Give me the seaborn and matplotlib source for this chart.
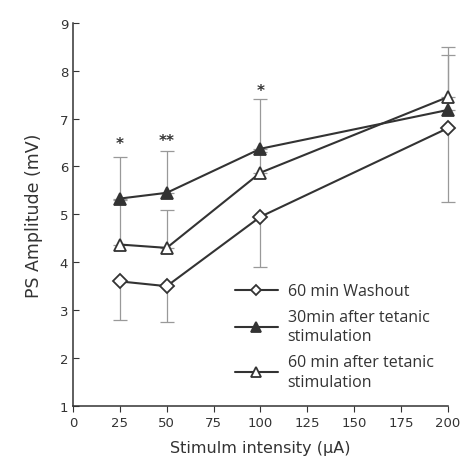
import numpy as np
import pandas as pd
import seaborn as sns
import matplotlib.pyplot as plt

# data
intensity = [25, 50, 100, 200]
washout = [3.6, 3.5, 4.95, 6.8]
washout_low = [2.8, 2.75, 3.9, 5.25]
tet30 = [5.33, 5.45, 6.37, 7.18]
tet30_high = [6.2, 6.33, 7.4, 8.33]
tet60 = [4.37, 4.3, 5.87, 7.45]
tet60_high = [5.3, 5.1, 6.3, 8.5]
star_x = [25, 50, 100]
star_y = [6.47, 6.54, 7.58]
star_txt = ['*', '**', '*']

sns.set_style('ticks')
plt.rcParams['font.family'] = ['DejaVu Sans']

ink = '#333333'
bar_col = '#999999'

fig = plt.figure(figsize=(4.65, 4.77), dpi=100)
ax = fig.add_axes([0.157, 0.147, 0.806, 0.803])

x = np.array(intensity)

# error bars (one sided)
eb_kw = dict(fmt='none', ecolor=bar_col, elinewidth=0.9, capsize=5, capthick=0.9, zorder=1)
for y, err in [(washout, [np.array(washout) - np.array(washout_low), np.zeros(4)]),
               (tet30, [np.zeros(4), np.array(tet30_high) - np.array(tet30)]),
               (tet60, [np.zeros(4), np.array(tet60_high) - np.array(tet60)])]:
    eb = ax.errorbar(x, y, yerr=err, **eb_kw)
    for art in eb.lines[1] + eb.lines[2]:
        art.set_clip_on(False)

sns.lineplot(x=x, y=washout, ax=ax, color=ink, lw=1.5, marker='D', ms=7,
             markerfacecolor='white', markeredgecolor=ink, markeredgewidth=1.3,
             label='60 min Washout', zorder=3, clip_on=False)
sns.lineplot(x=x, y=tet30, ax=ax, color=ink, lw=1.5, marker='^', ms=9,
             markerfacecolor=ink, markeredgecolor=ink, markeredgewidth=1.3,
             label='30min after tetanic\nstimulation', zorder=3, clip_on=False)
sns.lineplot(x=x, y=tet60, ax=ax, color=ink, lw=1.5, marker='^', ms=9,
             markerfacecolor='white', markeredgecolor=ink, markeredgewidth=1.3,
             label='60 min after tetanic\nstimulation', zorder=3, clip_on=False)

for sx, sy, st in zip(star_x, star_y, star_txt):
    ax.text(sx, sy, st, ha='center', va='center', fontsize=11, color=ink, fontweight='bold')

ax.set_xlim(0, 200)
ax.set_ylim(1, 9)
ax.set_xticks(range(0, 201, 25))
ax.set_yticks(range(1, 10))
ax.tick_params(axis='y', direction='in', length=4, labelsize=9.5, colors=ink)
ax.tick_params(axis='x', direction='out', length=4, labelsize=9.5, colors=ink)
ax.set_ylabel('PS Amplitude (mV)', fontsize=12.5, color=ink, labelpad=12)
ax.set_xlabel('Stimulm intensity (μA)', fontsize=11.5, color=ink, labelpad=8)
sns.despine(ax=ax)
for sp in ['left', 'bottom']:
    ax.spines[sp].set_color(ink)
    ax.spines[sp].set_linewidth(1.1)

leg = ax.legend(loc='upper left', bbox_to_anchor=(0.432, 0.32), frameon=False,
                prop={'family': ['Open Sans', 'DejaVu Sans'], 'size': 11.5},
                handlelength=2.7, handletextpad=0.6, labelspacing=0.6,
                borderaxespad=0, borderpad=0, markerscale=0.75)
for t in leg.get_texts():
    t.set_color(ink)
    t.set_linespacing(1.3)

fig.savefig('out.png', dpi=100)
